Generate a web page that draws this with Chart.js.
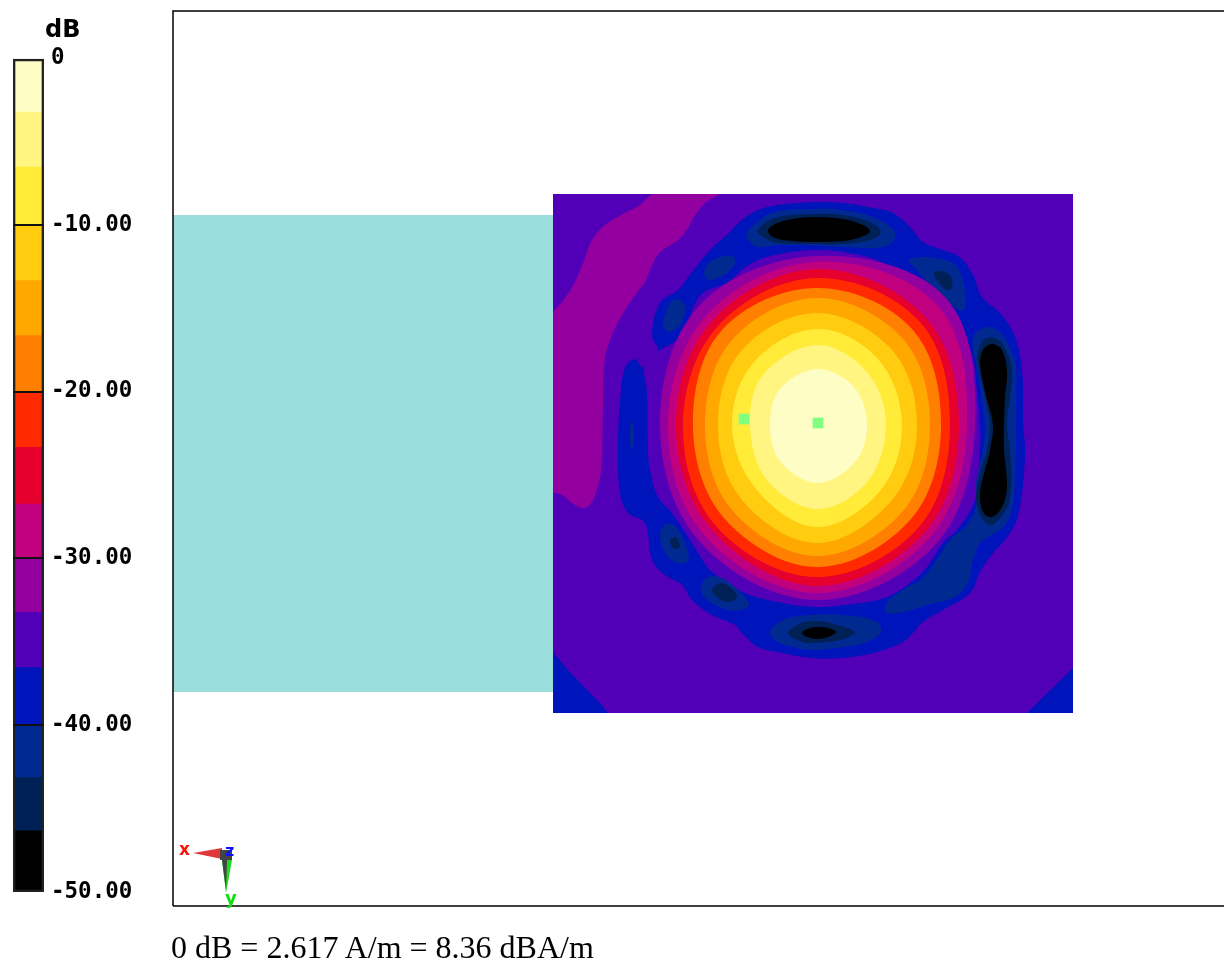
<!DOCTYPE html>
<html>
<head>
<meta charset="utf-8">
<style>
html,body{margin:0;padding:0;background:#fff;width:1224px;height:963px;overflow:hidden}
canvas{position:absolute;left:0;top:0}
.t{position:absolute;white-space:nowrap;line-height:1}
</style>
<script src="https://cdn.jsdelivr.net/npm/chart.js@4"></script>
</head>
<body>
<canvas id="map" width="1224" height="963"></canvas>
<canvas id="bar" width="173" height="963"></canvas>
<div class="t" style="left:45px;top:15px;font:bold 24px 'DejaVu Sans'">dB</div>
<div class="t" style="left:171px;top:929px;font:32px 'Liberation Serif'">0 dB = 2.617 A/m = 8.36 dBA/m</div>
<div class="t" style="left:179px;top:839px;font:bold 17px 'DejaVu Sans';color:#ff1010">x</div>
<div class="t" style="left:225px;top:841px;font:bold 16px 'DejaVu Sans';color:#1010ff">z</div>
<div class="t" style="left:225px;top:887px;font:bold 18px 'DejaVu Sans';color:#10e010">y</div>
<script>
// colour scale
const bandTop = [0,-3.2,-6.5,-10,-13.3,-16.6,-20,-23.3,-26.7,-30,-33.2,-36.5,-40,-43.1,-46.3];
const bandBottom = [-3.2,-6.5,-10,-13.3,-16.6,-20,-23.3,-26.7,-30,-33.2,-36.5,-40,-43.1,-46.3,-50];
const bandColors = ['#FFFDC6','#FFF580','#FFEB38','#FFCC10','#FFA800','#FF7F00','#FF2A00','#E6002E','#C0007F','#9400A0','#5200B8','#0014BC','#002A90','#002155','#000000'];
const [cLight,cPale,cYellow,cGold,cAmber,cOrange,cRed,cCrimson,cMagenta,cPurple,cIndigo,cBlue,cDark,cNavy,cBlack] = bandColors;

// measurement plane, in scan units
const scanPlane = [[0,0],[520,0],[520,519],[0,519]];
const phantom = [[-380,21],[0,21],[0,498],[-380,498]];
const westPurple = [[98,0],[98,0],[87,11],[72,19],[52,31],[39,46],[32,64],[22,88],[12,104],[0,118],[0,118],[0,298],[0,298],[9,301],[22,311],[32,314],[40,306],[47,283],[49,261],[50,208],[52,164],[59,141],[69,121],[82,101],[92,88],[99,71],[107,58],[125,46],[135,34],[142,21],[152,9],[167,0],[167,0]];
const cornerSW = [[0,458],[15,476],[32,494],[47,509],[55,519],[0,519]];
const cornerSE = [[520,474],[474,519],[520,519]];
const blueOuter = [[262,8],[290,9],[320,14],[340,19],[357,33],[370,48],[390,56],[407,63],[420,81],[429,103],[447,119],[460,138],[467,161],[470,191],[470,224],[472,261],[467,313],[459,336],[437,363],[427,378],[417,399],[390,416],[370,428],[360,439],[350,448],[324,458],[290,464],[257,464],[225,458],[205,453],[189,439],[182,431],[159,421],[139,406],[129,391],[112,381],[99,366],[92,329],[75,319],[67,299],[65,256],[67,208],[72,174],[82,165],[90,173],[105,157],[99,141],[107,109],[125,96],[139,78],[159,54],[174,41],[189,26],[205,16],[225,11]];
const indigoInner = [[262,56],[290,58],[324,66],[347,79],[367,94],[390,114],[407,134],[420,164],[424,198],[427,231],[427,256],[422,306],[404,336],[390,349],[374,373],[357,389],[334,403],[307,409],[262,413],[225,408],[192,399],[159,378],[145,359],[135,343],[119,319],[105,303],[97,276],[95,256],[94,198],[91,174],[96,163],[107,156],[124,146],[134,133],[140,114],[150,99],[175,88],[189,76],[205,66],[232,59]];

// side lobes
const topDark = [[194,38],[219,19],[262,15],[290,16],[320,23],[339,34],[342,44],[330,53],[290,53],[257,51],[225,51],[205,53],[195,46]];
const topNavy = [[205,36],[222,24],[262,20],[290,21],[317,28],[328,38],[317,46],[290,50],[257,50],[225,49],[210,43]];
const topBlack = [[215,37],[222,30],[240,25],[262,23],[290,25],[310,31],[317,37],[308,43],[290,47],[262,48],[240,47],[222,44]];
const lobeA = [[151,79],[160,66],[179,62],[182,69],[174,79],[157,86]];
const lobeB = [[110,128],[117,109],[125,105],[132,113],[127,131],[117,138],[111,134]];
const lobeWest = [[77,238],[79,226],[81,238],[80,254],[78,254]];
const lobeNE = [[356,66],[370,63],[400,69],[409,84],[413,108],[409,117],[397,109],[377,91],[364,76]];
const lobeNENavy = [[381,79],[389,77],[398,83],[399,94],[394,96],[385,88]];
const eastDark = [[420,144],[434,133],[447,138],[457,154],[463,171],[463,198],[463,231],[463,256],[462,289],[459,313],[452,331],[437,342],[427,349],[420,366],[415,389],[402,403],[377,410],[354,417],[333,419],[334,409],[347,398],[370,384],[385,364],[397,346],[414,331],[423,313],[423,289],[430,256],[432,231],[425,178]];
const eastNavy = [[425,158],[432,145],[444,145],[454,158],[459,178],[457,204],[454,231],[457,256],[458,293],[454,314],[439,331],[429,324],[423,306],[428,276],[434,256],[437,231],[432,204],[425,171]];
const eastBlack = [[427,169],[430,156],[439,150],[449,156],[454,178],[452,204],[451,231],[451,256],[454,293],[449,313],[439,323],[430,318],[427,299],[432,276],[437,256],[440,231],[432,198]];
const lobeC = [[107,339],[114,330],[124,334],[135,358],[134,368],[124,369],[112,359]];
const lobeCNavy = [[117,346],[123,343],[127,353],[122,355],[118,351]];
const lobeD = [[148,393],[155,383],[169,384],[185,396],[196,411],[182,417],[162,411],[150,401]];
const lobeDNavy = [[159,396],[167,389],[177,393],[184,403],[175,408],[164,403]];
const bottomDark = [[217,438],[230,426],[257,421],[300,422],[324,428],[328,438],[314,448],[284,454],[257,456],[245,454],[225,448]];
const bottomNavy = [[235,439],[249,429],[262,427],[277,429],[302,438],[287,446],[257,449],[249,448]];
const bottomBlack = [[249,439],[254,435],[265,433],[275,434],[283,438],[275,443],[265,445],[254,443]];

// main beam contours, outermost first
const contourPurple = [[422,231],[383,350],[264,406],[147,348],[107,231],[146,112],[264,62],[392,103]];
const contourMagenta = [[414,231],[377,343],[264,399],[152,342],[115,231],[154,121],[264,68],[384,111]];
const contourCrimson = [[406,231],[372,338],[264,392],[159,336],[123,231],[159,127],[264,75],[372,123]];
const contourRed = [[397,231],[366,333],[264,383],[163,332],[130,231],[165,132],[264,84],[367,128]];
const contourOrange = [[388,231],[358,325],[264,373],[171,324],[140,231],[169,136],[264,94],[359,135]];
const contourAmber = [[377,231],[350,317],[264,362],[179,316],[152,231],[179,146],[264,104],[350,145]];
const contourGold = [[364,231],[339,306],[264,349],[189,306],[165,231],[189,156],[264,119],[339,156]];
const contourYellow = [[349,231],[327,297],[264,333],[203,295],[179,231],[201,168],[264,135],[325,165]];
const contourPale = [[333,231],[314,288],[264,315],[214,286],[197,231],[210,181],[264,151],[314,178]];
const contourLight = [[314,231],[302,268],[264,289],[227,267],[217,231],[227,195],[264,175],[301,193]];

// probe markers and orientation glyph
const probes = [[191,225],[265,229]];
const triadRed = [[-360,659],[-331,654],[-331,665]];
const triadGreen = [[-331,666],[-321,666],[-327,699]];
const triadShade = [[-331,666],[-326,666],[-327,696]];
const triadHub = [[-333,656],[-321,656],[-321,666],[-333,666]];
const frameTop = [[-380,712],[-380,-183],[671,-183]];
const frameBottom = [[-380,712],[671,712]];

const toXY = p => ({x:p[0],y:p[1]});
const smooth = .36;
const regions = [
  [scanPlane,cIndigo,0],[westPurple,cPurple,smooth],[cornerSW,cBlue,0],[cornerSE,cBlue,0],
  [blueOuter,cBlue,smooth],[indigoInner,cIndigo,smooth],
  [topDark,cDark,smooth],[topNavy,cNavy,smooth],[topBlack,cBlack,smooth],
  [lobeA,cDark,smooth],[lobeB,cDark,smooth],[lobeWest,cDark,smooth],
  [lobeNE,cDark,smooth],[lobeNENavy,cNavy,smooth],
  [eastDark,cDark,smooth],[eastNavy,cNavy,smooth],[eastBlack,cBlack,smooth],
  [lobeC,cDark,smooth],[lobeCNavy,cNavy,smooth],[lobeD,cDark,smooth],[lobeDNavy,cNavy,smooth],
  [bottomDark,cDark,smooth],[bottomNavy,cNavy,smooth],[bottomBlack,cBlack,smooth],
  [contourPurple,cPurple,smooth],[contourMagenta,cMagenta,smooth],[contourCrimson,cCrimson,smooth],
  [contourRed,cRed,smooth],[contourOrange,cOrange,smooth],[contourAmber,cAmber,smooth],
  [contourGold,cGold,smooth],[contourYellow,cYellow,smooth],[contourPale,cPale,smooth],[contourLight,cLight,smooth],
  [phantom,'#99DDDC',0],
  [triadRed,'#E03838',0],[triadGreen,'#22D822',0],[triadShade,'#444444',0],[triadHub,'#444444',0]
];
const n = regions.length;
// smooth outlines overlap their own start so the closing point has neighbours on both sides
const ring = (pts,tension) => (tension && pts !== westPurple)
  ? [pts[pts.length-1],...pts,pts[0],pts[1]]
  : [...pts,pts[0]];
const datasets = regions.map(([pts,color,tension],i)=>({
  data:ring(pts,tension).map(toXY),showLine:true,fill:'shape',backgroundColor:color,
  borderWidth:0,pointRadius:0,tension,order:n-i+5
}));
datasets.push({data:probes.map(toXY),showLine:false,pointStyle:'rect',pointRadius:7.6,pointBorderWidth:0,pointBackgroundColor:'#80FF80',backgroundColor:'#80FF80',order:3});
[frameTop,frameBottom].forEach(f=>datasets.push({data:f.map(toXY),showLine:true,fill:false,borderColor:'#000',borderWidth:1.5,pointRadius:0,clip:false,order:1}));

new Chart(document.getElementById('map'),{
  type:'scatter',
  data:{datasets},
  options:{responsive:false,animation:false,devicePixelRatio:1,
    layout:{autoPadding:false,padding:{left:173,top:11,right:0,bottom:57}},
    plugins:{legend:{display:false},tooltip:{enabled:false}},
    scales:{x:{type:'linear',display:false,min:-380,max:671},
            y:{type:'linear',display:false,reverse:true,min:-183,max:712}}
  }
});

// colour bar
const scaleSets = bandColors.map((c,i)=>({data:[[bandBottom[i],bandTop[i]]],backgroundColor:c,borderWidth:0,order:5}));
scaleSets.unshift({data:[[-50,0]],backgroundColor:'rgba(0,0,0,0)',borderColor:'#222',borderWidth:2,borderSkipped:false,order:1});
new Chart(document.getElementById('bar'),{
  type:'bar',
  data:{labels:['dB'],datasets:scaleSets},
  options:{responsive:false,animation:false,devicePixelRatio:1,
    layout:{padding:{left:13,top:58,right:0,bottom:71}},
    datasets:{bar:{grouped:false,barPercentage:1,categoryPercentage:1}},
    plugins:{legend:{display:false},tooltip:{enabled:false}},
    scales:{
      x:{display:false},
      y:{position:'right',min:-50,max:0,
        afterFit(s){s.width=129},
        border:{display:false},
        grid:{color:c=>(c.tick&&(c.tick.value===0||c.tick.value===-50))?'rgba(0,0,0,0)':'#111',lineWidth:2,drawTicks:false,z:1},
        ticks:{stepSize:10,padding:7,color:'#000',autoSkip:false,
          font:{family:"'DejaVu Sans Mono'",weight:'bold',size:22.5},
          callback:v=>v===0?'0':v.toFixed(2)}
      }
    }
  }
});
</script>
</body>
</html>
